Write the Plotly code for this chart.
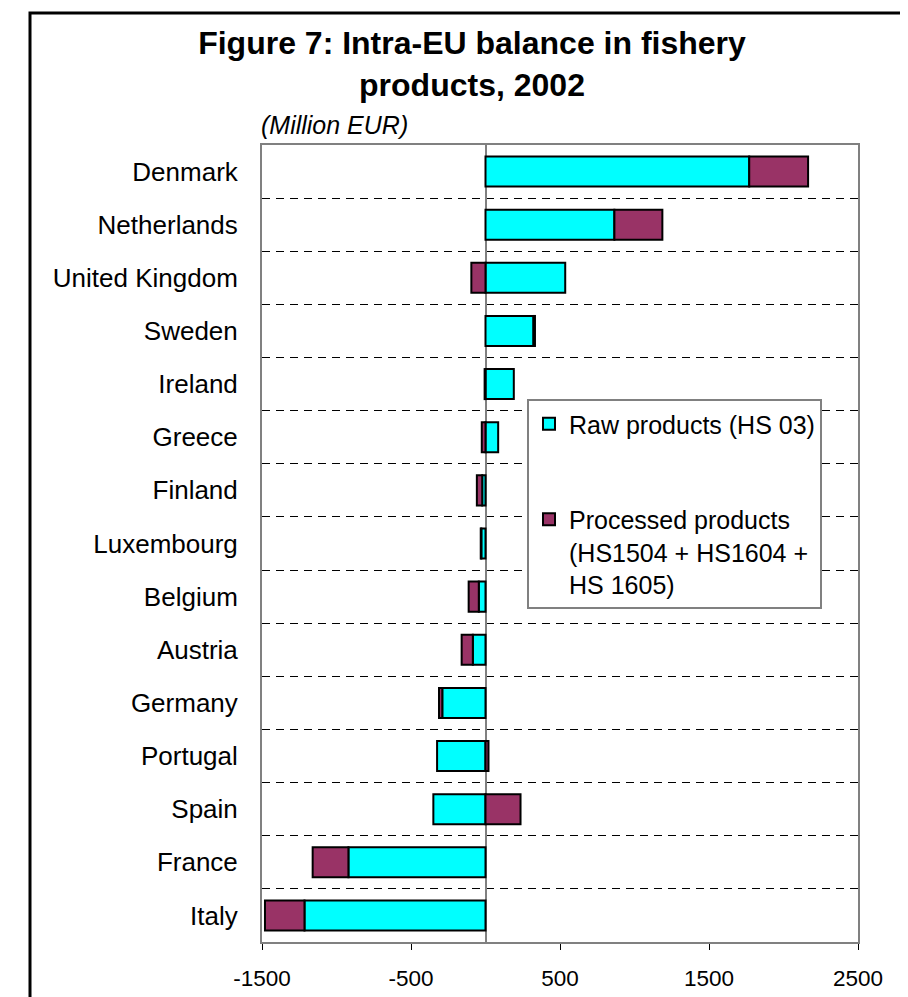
import plotly.graph_objects as go

FONT_FAMILY = "Liberation Sans, Arial, sans-serif"

countries = [
    "Denmark", "Netherlands", "United Kingdom", "Sweden", "Ireland",
    "Greece", "Finland", "Luxembourg", "Belgium", "Austria",
    "Germany", "Portugal", "Spain", "France", "Italy",
]
raw_products = [1770, 865, 535, 322, 190, 85, -22, -28, -45, -85, -290, -325, -350, -920, -1215]
processed_products = [395, 322, -95, 10, -6, -25, -36, -4, -68, -75, -22, 20, 235, -240, -265]
x_tick_values = [-1500, -500, 500, 1500, 2500]
x_tick_labels = ["-1500", "-500", "500", "1500", "2500"]

RAW_COLOR = "#00FFFF"
PROCESSED_COLOR = "#993366"

# the page adds an 8px body margin, so the figure is 8px smaller than the window
W, H = 900, 989
L, R, T, B = 254, 50, 137, 55

fig = go.Figure()
fig.add_trace(
    go.Bar(
        y=countries,
        x=raw_products,
        orientation="h",
        name="Raw products (HS 03)",
        legendgroup="raw",
        marker=dict(color=RAW_COLOR, line=dict(color="black", width=2)),
    )
)
fig.add_trace(
    go.Bar(
        y=countries,
        x=processed_products,
        orientation="h",
        name="Processed products<br>(HS1504 + HS1604 +<br>HS 1605)",
        legendgroup="processed",
        marker=dict(color=PROCESSED_COLOR, line=dict(color="black", width=2)),
    )
)

plot_w = W - L - R
plot_h = H - T - B

fig.update_layout(
    width=W,
    height=H,
    barmode="relative",
    bargap=0.435,
    plot_bgcolor="white",
    paper_bgcolor="white",
    margin=dict(l=L, r=R, t=T, b=B, autoexpand=False),
    font=dict(family=FONT_FAMILY, color="black", size=25),
    title=dict(
        text="<b>Figure 7: Intra-EU balance in fishery<br>products, 2002</b>",
        x=464 / W,
        xanchor="center",
        y=1 - 46 / H,
        yanchor="middle",
        font=dict(size=32, family=FONT_FAMILY, color="black"),
    ),
    legend=dict(
        x=(519 - L) / plot_w,
        y=(T + plot_h - 391) / plot_h,
        xanchor="left",
        yanchor="top",
        bgcolor="white",
        bordercolor="#808080",
        borderwidth=2,
        font=dict(size=25, family=FONT_FAMILY),
        traceorder="grouped",
        tracegroupgap=60,
        valign="top",
        itemwidth=30,
        entrywidth=305,
    ),
    annotations=[
        dict(
            text="<i>(Million EUR)</i>",
            xref="paper",
            yref="paper",
            x=-0.005,
            y=(T + plot_h - 117) / plot_h,
            xanchor="left",
            yanchor="middle",
            showarrow=False,
            font=dict(size=25, family=FONT_FAMILY),
        )
    ],
    shapes=[
        dict(
            type="rect",
            xref="paper",
            yref="paper",
            x0=(22 - L) / plot_w,
            x1=1.3,
            y0=-0.3,
            y1=(T + plot_h - 5) / plot_h,
            line=dict(color="black", width=3),
            fillcolor="rgba(0,0,0,0)",
            layer="below",
        )
    ],
)

fig.update_xaxes(
    range=[-1500, 2500],
    tickvals=x_tick_values,
    ticktext=x_tick_labels,
    ticks="outside",
    ticklen=6,
    tickcolor="black",
    tickfont=dict(size=22.5),
    ticklabelstandoff=9,
    showgrid=False,
    zeroline=True,
    zerolinecolor="#808080",
    zerolinewidth=2,
    showline=True,
    linecolor="#808080",
    linewidth=2,
    mirror=True,
    fixedrange=True,
    automargin=False,
)
fig.update_yaxes(
    categoryorder="array",
    categoryarray=countries,
    autorange="reversed",
    tickson="boundaries",
    ticks="",
    showgrid=True,
    gridcolor="black",
    gridwidth=1,
    griddash="8px,6px",
    tickfont=dict(size=26),
    ticklabelstandoff=17,
    showline=True,
    linecolor="#808080",
    linewidth=2,
    mirror=True,
    fixedrange=True,
    automargin=False,
)

fig.write_html("out.html")
